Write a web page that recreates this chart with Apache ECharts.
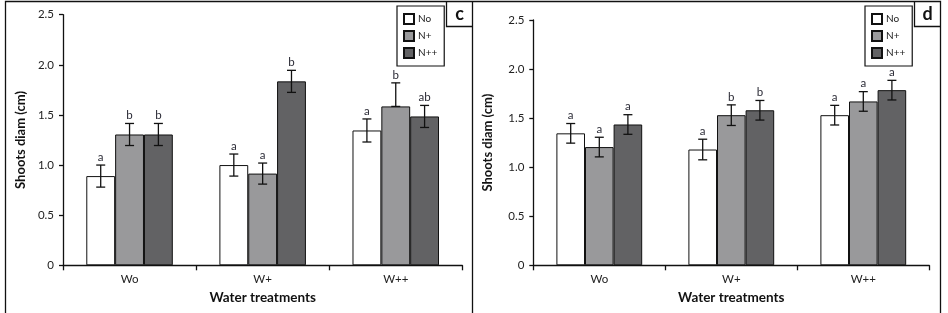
<!DOCTYPE html>
<html>
<head>
<meta charset="utf-8">
<script src="https://cdn.jsdelivr.net/npm/echarts@6/dist/echarts.min.js"></script>
<style>
html,body{margin:0;padding:0;background:#fff;}
#chart{width:948px;height:313px;}
</style>
</head>
<body>
<div id="chart"></div>
<script>
// ---- data ----
const categories = ['Wo', 'W+', 'W++'];
const seriesNames = ['No', 'N+', 'N++'];
const yTicks = [0, 0.5, 1.0, 1.5, 2.0, 2.5];

// panel c
const cNo  = [0.89, 1.00, 1.345];
const cNp  = [1.305, 0.915, 1.585];
const cNpp = [1.305, 1.835, 1.485];
const cErrUp = [[0.11, 0.11, 0.115], [0.11, 0.105, 0.235], [0.11, 0.11, 0.11]];
const cErrLo = [[0.11, 0.11, 0.115], [0.11, 0.105, 0.0], [0.11, 0.11, 0.11]];
const cLetters = [['a', 'a', 'a'], ['b', 'a', 'b'], ['b', 'b', 'ab']];

// panel d
const dNo  = [1.345, 1.18, 1.53];
const dNp  = [1.205, 1.53, 1.67];
const dNpp = [1.435, 1.58, 1.785];
const dErrUp = [[0.10, 0.105, 0.10], [0.10, 0.105, 0.10], [0.10, 0.10, 0.10]];
const dErrLo = [[0.10, 0.105, 0.10], [0.10, 0.105, 0.10], [0.10, 0.10, 0.10]];
const dLetters = [['a', 'a', 'a'], ['a', 'b', 'a'], ['a', 'b', 'a']];

const colors = ['#ffffff', '#99999b', '#626264'];
const FONT = 'Lato, "Noto Sans", sans-serif';
const CAT_GAP = 0.35;

function buildErr(means, up, lo) {
  const out = [];
  means.forEach((arr, s) => arr.forEach((v, c) => {
    out.push([c, v - lo[s][c], v + up[s][c], s]);
  }));
  return out;
}
function flatLetters(letters) {
  const out = [];
  letters.forEach(arr => arr.forEach(l => out.push(l)));
  return out;
}

function makeRender(letterList) {
  return function (params, api) {
    const cat = api.value(0), lo = api.value(1), hi = api.value(2), s = api.value(3);
    const band = api.size([1, 0])[0];
    const w = band * (1 - CAT_GAP) / 3;
    const cHi = api.coord([cat, hi]);
    const cLo = api.coord([cat, lo]);
    const x = cHi[0] + (s - 1) * w;
    const style = { stroke: '#111', lineWidth: 1.3 };
    const cap = 4.5;
    return {
      type: 'group',
      children: [
        { type: 'line', shape: { x1: x, y1: cHi[1], x2: x, y2: cLo[1] }, style: style },
        { type: 'line', shape: { x1: x - cap, y1: cHi[1], x2: x + cap, y2: cHi[1] }, style: style },
        { type: 'line', shape: { x1: x - cap, y1: cLo[1], x2: x + cap, y2: cLo[1] }, style: style },
        { type: 'text', x: x, y: cHi[1] - 2,
          style: { text: letterList[params.dataIndex], fill: '#2b2b36', font: '11.5px ' + FONT,
                   textAlign: 'center', textVerticalAlign: 'bottom' } }
      ]
    };
  };
}

function xAxis(gi) {
  return {
    type: 'category', gridIndex: gi, data: categories,
    axisLine: { lineStyle: { color: '#111', width: 1.3 } },
    axisTick: { show: true, length: 5, lineStyle: { color: '#111', width: 1.3 } },
    axisLabel: { color: '#222', fontSize: 11.5, fontFamily: FONT, margin: 8 },
    name: 'Water treatments', nameLocation: 'middle', nameGap: 25,
    nameTextStyle: { fontWeight: 'bold', fontSize: 13.5, color: '#111', fontFamily: FONT }
  };
}
function yAxis(gi, gap) {
  return {
    type: 'value', gridIndex: gi, min: 0, max: 2.5, interval: 0.5,
    axisLine: { show: true, lineStyle: { color: '#111', width: 1.3 } },
    axisTick: { show: true, length: 4, lineStyle: { color: '#111', width: 1.3 } },
    splitLine: { show: false },
    axisLabel: { color: '#222', fontSize: 11.5, fontFamily: FONT, margin: 9,
      formatter: v => (yTicks.indexOf(v) === 0 ? '0' : v.toFixed(1)) },
    name: 'Shoots diam (cm)', nameLocation: 'middle', nameRotate: 90, nameGap: gap,
    nameTextStyle: { fontWeight: 'bold', fontSize: 13, color: '#111', fontFamily: FONT }
  };
}
function bars(gi, arrs) {
  return arrs.map((d, i) => ({
    type: 'bar', name: seriesNames[i], xAxisIndex: gi, yAxisIndex: gi, data: d,
    barGap: '0%', barCategoryGap: (CAT_GAP * 100) + '%',
    itemStyle: { color: colors[i], borderColor: '#111', borderWidth: 1 },
    silent: true, animation: false
  }));
}
function legend(left, top) {
  return {
    data: seriesNames, orient: 'vertical', left: left, top: top,
    itemWidth: 10, itemHeight: 10, itemGap: 5, padding: [7, 7, 7, 6],
    borderColor: '#111', borderWidth: 1.2, icon: 'rect', selectedMode: false,
    textStyle: { fontSize: 10, color: '#222', fontFamily: FONT, padding: [0, 0, 0, -1] }
  };
}

const cErrData = buildErr([cNo, cNp, cNpp], cErrUp, cErrLo);
const dErrData = buildErr([dNo, dNp, dNpp], dErrUp, dErrLo);

const chart = echarts.init(document.getElementById('chart'), null, { renderer: 'canvas' });
chart.setOption({
  animation: false,
  grid: [
    { left: 63, right: 485.7, top: 14.7, bottom: 47.7 },
    { left: 533.3, right: 18.7, top: 20, bottom: 47.7 }
  ],
  xAxis: [xAxis(0), xAxis(1)],
  yAxis: [yAxis(0, 36), yAxis(1, 39)],
  legend: [legend(397, 6), legend(865, 6)],
  series: [
    ...bars(0, [cNo, cNp, cNpp]),
    ...bars(1, [dNo, dNp, dNpp]),
    { type: 'custom', xAxisIndex: 0, yAxisIndex: 0, data: cErrData, z: 10, silent: true,
      renderItem: makeRender(flatLetters(cLetters)), encode: { x: 0, y: [1, 2] } },
    { type: 'custom', xAxisIndex: 1, yAxisIndex: 1, data: dErrData, z: 10, silent: true,
      renderItem: makeRender(flatLetters(dLetters)), encode: { x: 0, y: [1, 2] } }
  ],
  graphic: [
    { type: 'polyline', silent: true, shape: { points: [[5.5, 313], [5.5, 1.5], [940.5, 1.5], [940.5, 313]] },
      style: { stroke: '#111', lineWidth: 1.3, fill: null } },
    { type: 'line', silent: true, shape: { x1: 472.5, y1: 1.5, x2: 472.5, y2: 313 },
      style: { stroke: '#111', lineWidth: 1.3 } },
    { type: 'polyline', silent: true, shape: { points: [[446.5, 1.5], [446.5, 26.5], [472.5, 26.5]] },
      style: { stroke: '#111', lineWidth: 1.3, fill: null } },
    { type: 'polyline', silent: true, shape: { points: [[914.5, 1.5], [914.5, 26.5], [940.5, 26.5]] },
      style: { stroke: '#111', lineWidth: 1.3, fill: null } },
    { type: 'text', silent: true, x: 459.5, y: 14.5,
      style: { text: 'c', font: 'bold 18px ' + FONT, fill: '#111', textAlign: 'center', textVerticalAlign: 'middle' } },
    { type: 'text', silent: true, x: 927.5, y: 14.5,
      style: { text: 'd', font: 'bold 18px ' + FONT, fill: '#111', textAlign: 'center', textVerticalAlign: 'middle' } }
  ]
});
</script>
</body>
</html>
